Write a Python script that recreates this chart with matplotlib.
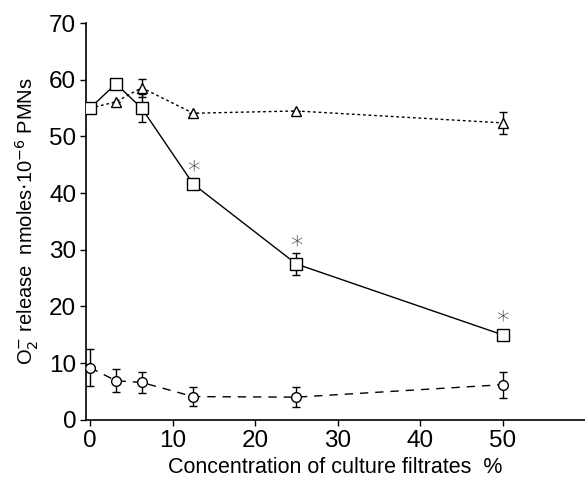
import matplotlib.pyplot as plt
import numpy as np

plt.rcParams['font.family'] = ['Liberation Sans', 'DejaVu Sans']

conc = [0, 3.125, 6.25, 12.5, 25, 50]

# squares, solid line
sq_y = [55.0, 59.3, 55.0, 41.6, 27.5, 15.0]
sq_err = [0, 0, 2.5, 0, 1.9, 0]
# triangles, dotted line
tri_y = [55.0, 56.1, 58.6, 54.1, 54.5, 52.4]
tri_err = [0, 0, 1.6, 0, 0, 1.9]
# circles, dashed line
circ_y = [9.2, 6.9, 6.6, 4.1, 4.0, 6.2]
circ_err = [3.3, 2.0, 1.8, 1.7, 1.8, 2.3]

star_x = [12.5, 25, 50]
star_y = [44.0, 30.8, 17.5]

fig = plt.figure(figsize=(5.85, 4.82), dpi=100)
ax = fig.add_axes([0.147, 0.129, 0.853, 0.823])

ax.errorbar(conc, circ_y, yerr=circ_err, color='black', lw=1, ls=(0, (6, 5)),
            marker='o', ms=7, mfc='white', mec='black', mew=1,
            capsize=3, elinewidth=1, capthick=1, zorder=3)
ax.errorbar(conc, tri_y, yerr=tri_err, color='black', lw=1, ls=(0, (2, 2)),
            marker='^', ms=7, mfc='white', mec='black', mew=1,
            capsize=3, elinewidth=1, capthick=1, zorder=3)
ax.errorbar(conc, sq_y, yerr=sq_err, color='black', lw=1, ls='-',
            marker='s', ms=8, mfc='white', mec='black', mew=1,
            capsize=3, elinewidth=1, capthick=1, zorder=4)

for x, y in zip(star_x, star_y):
    ax.text(x, y, '*', ha='center', va='center', fontsize=18,
            family='DejaVu Sans', fontweight='light', color='#333333')

ax.set_xlim(-0.5, 60)
ax.set_ylim(0, 70)
ax.set_xticks([0, 10, 20, 30, 40, 50])
ax.set_yticks(np.arange(0, 71, 10))
ax.spines['top'].set_visible(False)
ax.spines['right'].set_visible(False)
ax.spines['left'].set_linewidth(1.2)
ax.spines['bottom'].set_linewidth(1.2)
ax.tick_params(direction='out', length=4, width=1, labelsize=17.5, pad=3)

ax.set_xlabel('Concentration of culture filtrates  %', fontsize=15.5, labelpad=4)
ax.set_ylabel(r'O$_2^{-}$ release  nmoles$\cdot$10$^{-6}$ PMNs', fontsize=14.5,
              labelpad=6)

fig.savefig('out.png', dpi=100)
